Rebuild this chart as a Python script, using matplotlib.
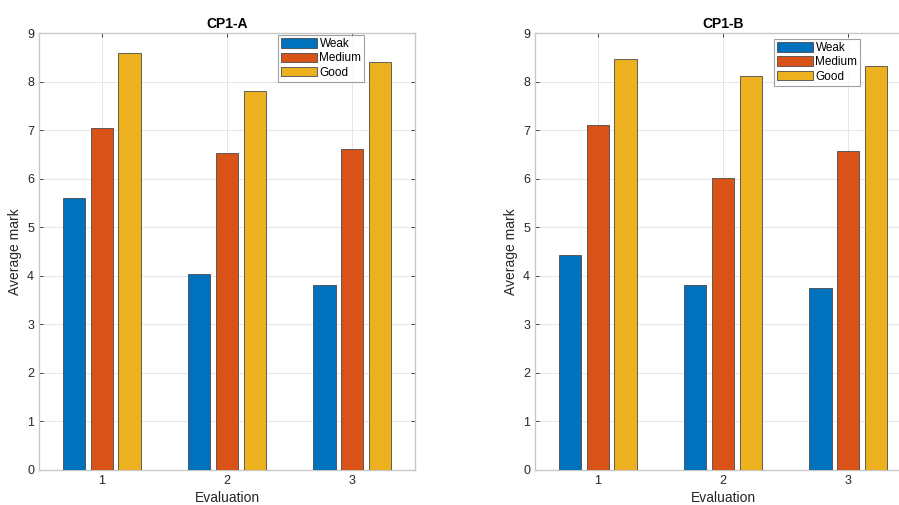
import numpy as np
import matplotlib
matplotlib.use("Agg")
import matplotlib.pyplot as plt

plt.rcParams['font.family'] = ['Liberation Sans', 'DejaVu Sans']

evaluations = [1, 2, 3]
levels = ["Weak", "Medium", "Good"]
colors = ["#0072BD", "#D95319", "#EDB120"]

cp1a_weak = [5.61, 4.03, 3.82]
cp1a_medium = [7.04, 6.54, 6.62]
cp1a_good = [8.59, 7.82, 8.41]

cp1b_weak = [4.43, 3.82, 3.75]
cp1b_medium = [7.10, 6.01, 6.58]
cp1b_good = [8.47, 8.12, 8.32]

fig = plt.figure(figsize=(8.99, 5.05), dpi=100)

W, H = 899.0, 505.0
ax_w = 376 / W
ax_h = (470 - 33.3) / H
ax_b = (H - 470) / H
axes = [fig.add_axes([39 / W, ax_b, ax_w, ax_h]),
        fig.add_axes([535 / W, ax_b, ax_w, ax_h])]

panels = [("CP1-A", [cp1a_weak, cp1a_medium, cp1a_good], 0.996),
          ("CP1-B", [cp1b_weak, cp1b_medium, cp1b_good], 0.987)]

x = np.array(evaluations, dtype=float)
offsets = [-0.223, 0.0, 0.223]
width = 0.178

for ax, (title, series, leg_top) in zip(axes, panels):
    for vals, off, col, lab in zip(series, offsets, colors, levels):
        ax.bar(x + off, vals, width=width, color=col, edgecolor="#4a4a4a",
               linewidth=0.6, label=lab, zorder=3)
    ax.set_xlim(0.5, 3.5)
    ax.set_ylim(0, 9)
    ax.set_xticks(evaluations)
    ax.set_yticks(range(0, 10))
    ax.grid(True, color="#e6e6e6", linewidth=0.7, zorder=0)
    ax.set_axisbelow(True)
    for s in ax.spines.values():
        s.set_color("#c8c8c8")
        s.set_linewidth(1.0)
    ax.tick_params(direction="in", top=True, right=True, length=3,
                   color="#262626", labelcolor="#262626", labelsize=9, width=0.6)
    ax.set_title(title, fontsize=10, fontweight="bold", color="#000000", pad=4)
    ax.set_xlabel("Evaluation", fontsize=10, color="#262626", labelpad=3)
    ax.set_ylabel("Average mark", fontsize=10, color="#262626", labelpad=4)
    leg = ax.legend(loc="upper left", bbox_to_anchor=(0.636, leg_top), fontsize=8.5,
                    frameon=True, fancybox=False, edgecolor="#888888",
                    handlelength=3.0, handleheight=0.85, handletextpad=0.25,
                    borderpad=0.25, labelspacing=0.2, borderaxespad=0)
    leg.get_frame().set_linewidth(0.8)

fig.savefig("out.png", dpi=100)
